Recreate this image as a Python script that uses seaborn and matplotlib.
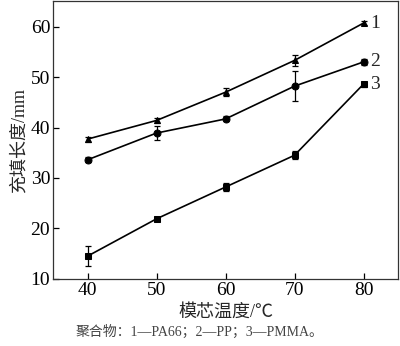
import matplotlib
matplotlib.use("Agg")
import matplotlib.pyplot as plt
import seaborn as sns
import pandas as pd

temps = [40, 50, 60, 70, 80]
pa66 = [37.7, 41.4, 47.0, 53.3, 60.7]
pa66_err = [0.5, 0.5, 0.8, 1.1, 0.4]
pp = [33.6, 38.9, 41.7, 48.2, 53.0]
pp_err = [0.5, 1.4, 0.5, 3.0, 0.6]
pmma = [14.5, 21.9, 28.2, 34.5, 48.6]
pmma_err = [2.0, 0.3, 0.8, 0.8, 0.5]
series_labels = ["1", "2", "3"]

sns.set_theme(style="ticks")
plt.rcParams['font.family'] = ['Liberation Serif', 'Noto Sans CJK SC']
plt.rcParams['axes.unicode_minus'] = False

fig = plt.figure(figsize=(4.0, 3.46), dpi=100)
ax = fig.add_axes([0.1325, 0.194, 0.8625, 0.802])

markers = ["^", "o", "s"]
data = [(pa66, pa66_err), (pp, pp_err), (pmma, pmma_err)]
for (vals, errs), m, lab in zip(data, markers, series_labels):
    df = pd.DataFrame({"t": temps, "v": vals})
    sns.lineplot(data=df, x="t", y="v", ax=ax, color="black", lw=1.2,
                 marker=m, markersize=5, markeredgecolor="black")
    ax.errorbar(temps, vals, yerr=errs, fmt="none", ecolor="black",
                elinewidth=0.9, capsize=2.5, capthick=0.9)
    ax.text(temps[-1] + 1.0, vals[-1], lab, fontsize=14, va="center", ha="left")

ax.set_xlim(35, 85)
ax.set_ylim(10, 65)
ax.set_xticks(temps)
ax.set_yticks([10, 20, 30, 40, 50, 60])
ax.tick_params(direction="in", length=4, width=0.9, labelsize=14, colors="black", pad=2)
for s in ax.spines.values():
    s.set_linewidth(0.9)
    s.set_color("#333333")
ax.set_xlabel("模芯温度/℃", fontsize=13, labelpad=4, fontweight="medium")
ax.set_ylabel("充填长度/mm", fontsize=13, labelpad=2)
fig.text(0.19, 0.04, "聚合物：1—PA66；2—PP；3—PMMA。", fontsize=10, color="#444444",
         ha="left", va="center")

fig.savefig("out.png", dpi=100)
